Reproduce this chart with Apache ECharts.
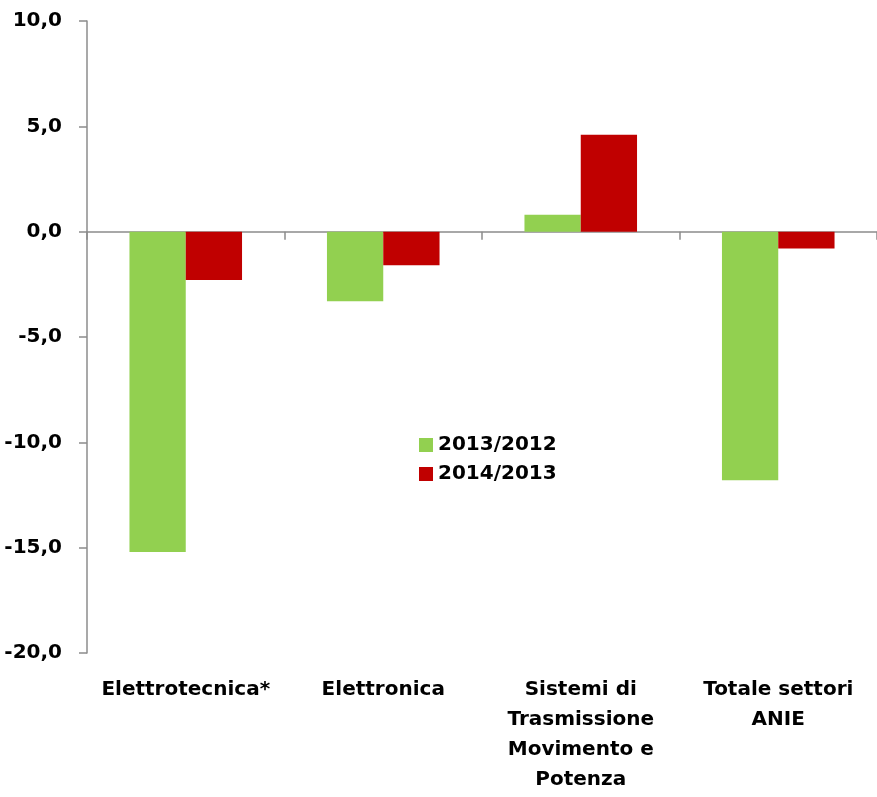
<!DOCTYPE html>
<html>
<head>
<meta charset="utf-8">
<script src="https://cdn.jsdelivr.net/npm/echarts@6/dist/echarts.min.js"></script>
<style>
html, body { margin: 0; padding: 0; background: #fff; }
#chart { width: 877px; height: 797px; }
</style>
</head>
<body>
<div id="chart"></div>
<script>
// categorie e valori
var settori = ['Elettrotecnica*', 'Elettronica', 'Sistemi di\nTrasmissione\nMovimento e\nPotenza', 'Totale settori\nANIE'];
var var2013 = [-15.2, -3.3, 0.8, -11.8];
var var2014 = [-2.3, -1.6, 4.6, -0.8];
var serieNomi = ['2013/2012', '2014/2013'];

var font = '"DejaVu Sans", sans-serif';
var axisGrey = '#8c8c8c';

var chart = echarts.init(document.getElementById('chart'));

var option = {
    animation: false,
    grid: { left: 87, right: -2, top: 21, bottom: 144, containLabel: false },
    legend: {
        orient: 'vertical',
        left: 414,
        top: 430,
        itemWidth: 14,
        itemHeight: 14,
        itemGap: 9,
        icon: 'rect',
        textStyle: { fontFamily: font, fontWeight: 'bold', fontSize: 20, color: '#000' },
        data: serieNomi
    },
    xAxis: [{
        type: 'category',
        data: settori,
        axisLine: { onZero: true, lineStyle: { color: axisGrey, width: 1.5 } },
        axisTick: { show: true, length: 8, inside: false, lineStyle: { color: axisGrey, width: 1.5 } },
        axisLabel: { show: false }
    }, {
        type: 'category',
        data: settori,
        position: 'bottom',
        axisLine: { show: false, onZero: false },
        axisTick: { show: false },
        axisLabel: {
            margin: 22,
            interval: 0,
            fontFamily: font,
            fontWeight: 'bold',
            fontSize: 20,
            lineHeight: 30,
            color: '#000'
        }
    }],
    yAxis: {
        type: 'value',
        min: -20,
        max: 10,
        interval: 5,
        splitLine: { show: false },
        axisLine: { show: true, lineStyle: { color: axisGrey, width: 1.5 } },
        axisTick: { show: true, length: 8, lineStyle: { color: axisGrey, width: 1.5 } },
        axisLabel: {
            margin: 25,
            fontFamily: font,
            fontWeight: 'bold',
            fontSize: 20,
            color: '#000',
            formatter: function (v) { return v.toFixed(1).replace('.', ','); }
        }
    },
    series: [{
        name: serieNomi[0],
        type: 'bar',
        xAxisIndex: 0,
        data: var2013,
        barGap: '0%',
        barCategoryGap: '43%',
        itemStyle: { color: '#92D050' }
    }, {
        name: serieNomi[1],
        type: 'bar',
        xAxisIndex: 0,
        data: var2014,
        barGap: '0%',
        barCategoryGap: '43%',
        itemStyle: { color: '#C00000' }
    }]
};

chart.setOption(option);
</script>
</body>
</html>
